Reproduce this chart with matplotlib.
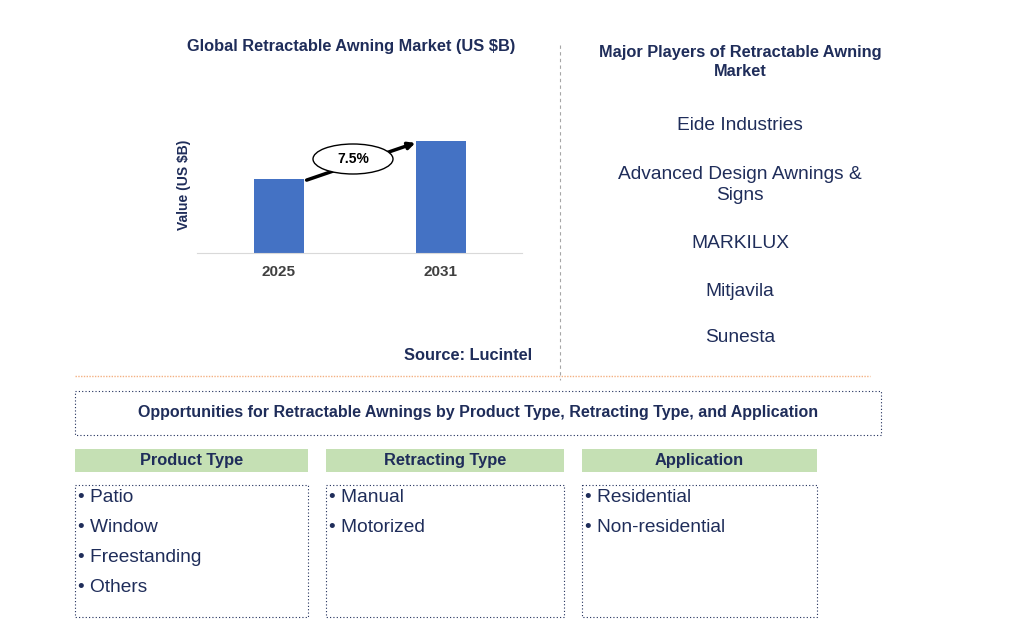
import matplotlib
matplotlib.use("Agg")
import matplotlib.pyplot as plt
from matplotlib.patches import Rectangle, Ellipse

plt.rcParams["font.family"] = "Liberation Sans"

years = ["2025", "2031"]
values = [2.05, 3.1]
cagr = "7.5%"
players = ["Eide Industries", "Advanced Design Awnings &\nSigns", "MARKILUX", "Mitjavila", "Sunesta"]
headers = ["Product Type", "Retracting Type", "Application"]
items = [["Patio", "Window", "Freestanding", "Others"], ["Manual", "Motorized"], ["Residential", "Non-residential"]]

W, H = 1009, 638
navy = "#1F2D5A"
fig = plt.figure(figsize=(W/100, H/100), dpi=100)
ov = fig.add_axes([0, 0, 1, 1])
ov.set_xlim(0, W); ov.set_ylim(H, 0); ov.axis("off")

# bar chart
L, R, B, T = 197, 522, 253, 120
ax = fig.add_axes([L/W, 1-B/H, (R-L)/W, (B-T)/H])
ax.bar([0, 1], values, width=0.309, color="#4472C4")
ax.set_xlim(-0.506, 1.5); ax.set_ylim(0, 3.1*133/112)
ax.set_xticks([0, 1]); ax.set_xticklabels(years, fontsize=11, fontweight="bold", color="#404040")
ax.set_yticks([])
for s in ["top", "right", "left"]:
    ax.spines[s].set_visible(False)
ax.spines["bottom"].set_color("#D9D9D9")
ax.tick_params(axis="x", length=0, pad=9)
ax.patch.set_alpha(0)

bold = 11.8
ov.text(351, 47, "Global Retractable Awning Market (US $B)", ha="center", va="center", fontsize=bold, fontweight="bold", color=navy)
ov.text(184, 185, "Value (US $B)", rotation=90, ha="center", va="center", fontsize=10, fontweight="bold", color=navy)
ov.annotate("", xy=(418, 142), xytext=(304, 181), arrowprops=dict(arrowstyle="-|>", color="black", lw=2.5), zorder=2)
ov.add_patch(Ellipse((353, 159), 80, 30, facecolor="white", edgecolor="black", lw=1, zorder=3))
ov.text(353, 159, cagr, ha="center", va="center", fontsize=10, fontweight="bold", color="black", zorder=4)
ov.text(468, 355, "Source: Lucintel", ha="center", va="center", fontsize=bold, fontweight="bold", color=navy)

ov.plot([560, 560], [45, 380], color="#A6A6A6", lw=0.8, ls=(0, (3, 3)))
ov.plot([75, 870], [376, 376], color="#F4B183", lw=1, ls=(0, (1, 1)))

ov.text(740, 62, "Major Players of Retractable Awning\nMarket", ha="center", va="center", fontsize=bold, fontweight="bold", color=navy, linespacing=1.3)
for y, p in zip([125, 185, 244, 291, 337], players):
    ov.text(740, y, p, ha="center", va="center", fontsize=13.8, color=navy, linespacing=1.25)

ov.add_patch(Rectangle((75, 391), 806, 44, fill=False, edgecolor=navy, lw=0.8, ls=(0, (1, 2))))
ov.text(478, 413, "Opportunities for Retractable Awnings by Product Type, Retracting Type, and Application", ha="center", va="center", fontsize=11.5, fontweight="bold", color=navy)

cols = [(75, 308), (326, 564), (582, 817)]
for (x0, x1), h, its in zip(cols, headers, items):
    ov.add_patch(Rectangle((x0, 449), x1-x0, 23, facecolor="#C5E0B4", edgecolor="none"))
    ov.text((x0+x1)/2, 461, h, ha="center", va="center", fontsize=bold, fontweight="bold", color=navy)
    ov.add_patch(Rectangle((x0, 485), x1-x0, 132, fill=False, edgecolor=navy, lw=0.8, ls=(0, (1, 2))))
    for i, t in enumerate(its):
        ov.text(x0+3, 498+30*i, "\u2022 " + t, ha="left", va="center", fontsize=13.8, color=navy)

fig.savefig("out.png", dpi=100)
